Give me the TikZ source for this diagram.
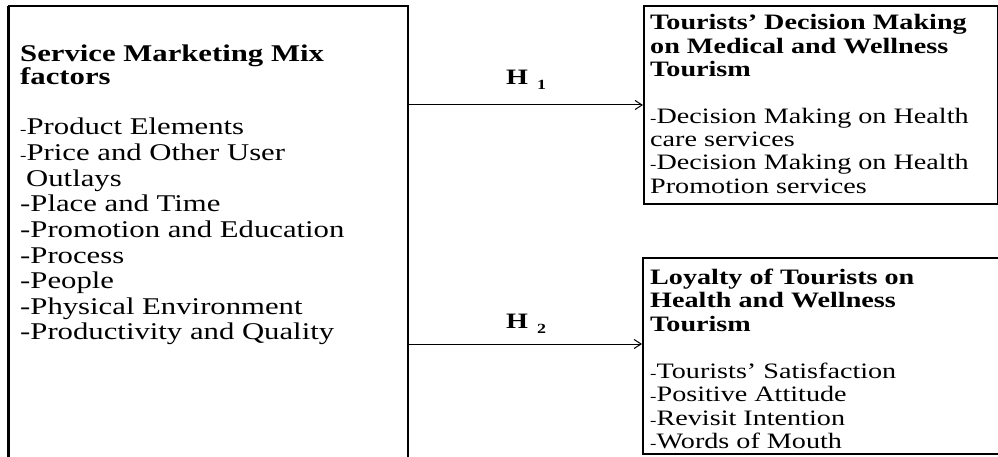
\documentclass[tikz,border=0pt]{standalone}
\usepackage{fontspec}
\setmainfont{Liberation Serif}[FakeStretch=1.28]
\usetikzlibrary{arrows.meta}
\newcommand{\smh}{{\fontsize{15}{15}\selectfont -}}
\tikzset{
  boxline/.style={line width=2pt},
  conn/.style={line width=1pt,-{Straight Barb[length=7pt,width=9pt]}},
  ltext/.style={anchor=base west,inner sep=0pt,font=\fontsize{24}{25}\selectfont},
  rtext/.style={anchor=base west,inner sep=0pt,font=\fontsize{22}{23.3}\selectfont},
  hlabel/.style={anchor=base west,inner sep=0pt,font=\fontsize{22}{24}\selectfont\bfseries},
}
\begin{document}
\begin{tikzpicture}[x=1pt,y=-1pt]
\useasboundingbox (0,0) rectangle (998,457);
\clip (0,0) rectangle (998,457);
% boxes
\coordinate (lbnw) at (9,6);
\coordinate (lbse) at (408,480);
\draw[boxline] (lbnw) rectangle (lbse);
\draw[line width=3pt] (8.5,6) -- (8.5,480);
\node[draw,boxline,anchor=north west,inner sep=0pt,minimum width=354pt,minimum height=198pt] (rbox1) at (643,5) {};
\node[draw,boxline,anchor=north west,inner sep=0pt,minimum width=400pt,minimum height=196pt] (rbox2) at (642,257) {};
% left text
\node[ltext] (l0) at (20,62) {\bfseries Service Marketing Mix};
\node[ltext] (l1) at (20,85) {\bfseries factors};
\foreach \t [count=\i from 0] in {\smh Product Elements,\smh Price and Other User,\hspace{6pt}Outlays,-Place and Time,-Promotion and Education,-Process,-People,-Physical Environment,-Productivity and Quality}
  \node[ltext] (m\i) at (20,{135+25.6*\i}) {\t};
% right box 1 text
\node[rtext] (a0) at (650,30) {\bfseries Tourists’ Decision Making};
\node[rtext] (a1) at (650,53.5) {\bfseries on Medical and Wellness};
\node[rtext] (a2) at (650,77) {\bfseries Tourism};
\node[rtext] (a3) at (650,123.5) {\smh Decision Making on Health};
\node[rtext] (a4) at (650,147) {care services};
\node[rtext] (a5) at (650,170) {\smh Decision Making on Health};
\node[rtext] (a6) at (650,193.5) {Promotion services};
% right box 2 text
\node[rtext] (b0) at (650,284) {\bfseries Loyalty of Tourists on};
\node[rtext] (b1) at (650,307.5) {\bfseries Health and Wellness};
\node[rtext] (b2) at (650,331) {\bfseries Tourism};
\node[rtext] (b3) at (650,378) {\smh Tourists’ Satisfaction};
\node[rtext] (b4) at (650,401.5) {\smh Positive Attitude};
\node[rtext] (b5) at (650,425) {\smh Revisit Intention};
\node[rtext] (b6) at (650,448) {\smh Words of Mouth};
% connectors
\coordinate (s1) at (408,105);
\coordinate (s2) at (408,344);
\draw[conn] (s1) -- (s1 -| rbox1.west);
\draw[conn] (s2) -- (s2 -| rbox2.west);
\node[hlabel] (h1) at (506,85) {H\hspace{9pt}\raisebox{-5pt}{\fontsize{14}{15}\selectfont 1}};
\node[hlabel] (h2) at (506,328) {H\hspace{9pt}\raisebox{-5pt}{\fontsize{14}{15}\selectfont 2}};
\end{tikzpicture}
\end{document}
